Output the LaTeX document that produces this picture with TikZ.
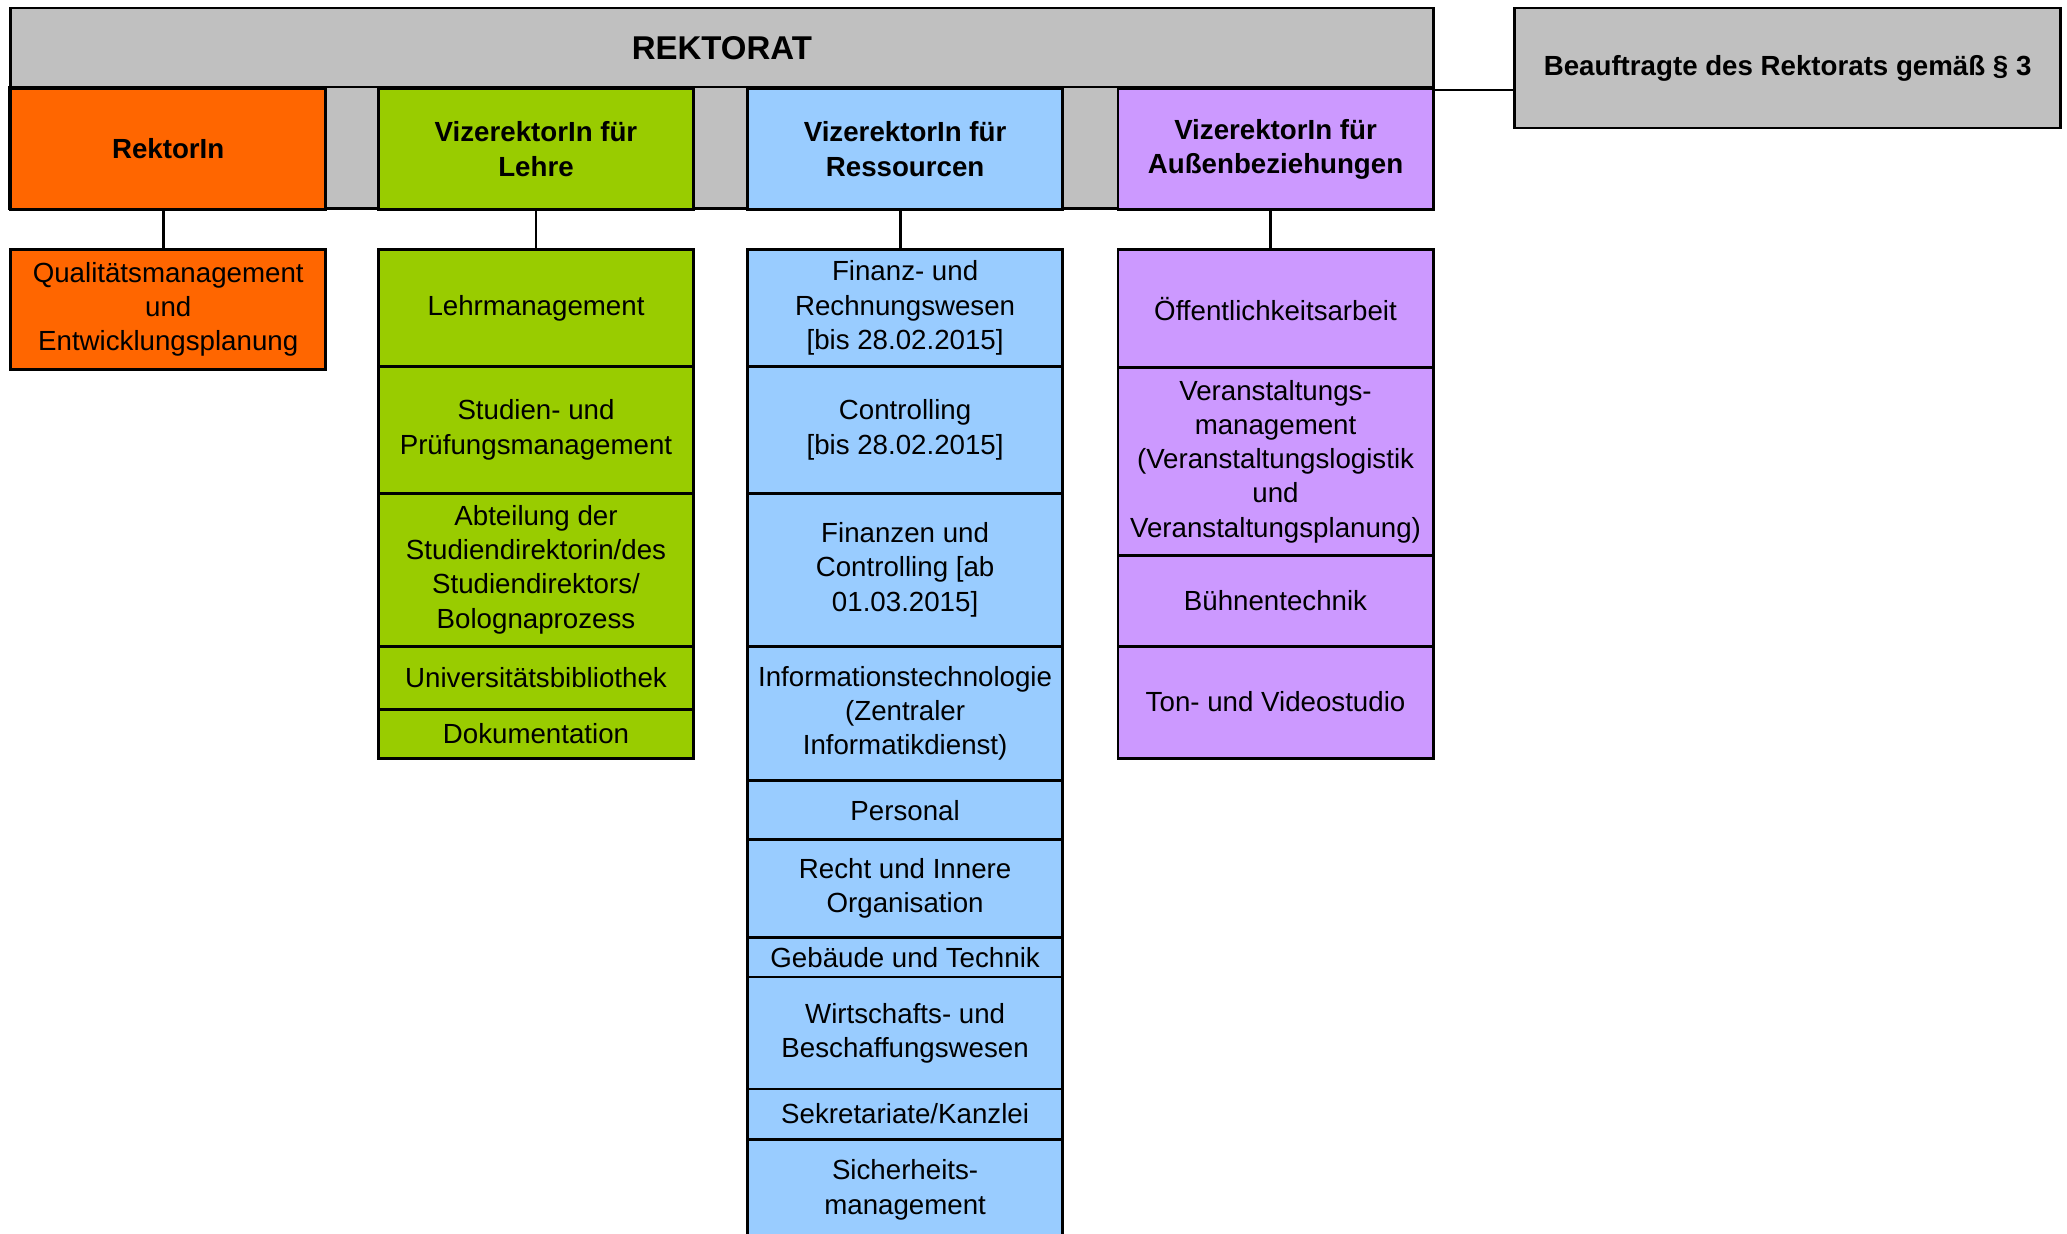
\documentclass[tikz,border=0pt]{standalone}
\usepackage{fontspec}
\setmainfont{Liberation Sans}
\usetikzlibrary{positioning,calc}
\definecolor{rekgrey}{HTML}{C0C0C0}
\definecolor{rekorange}{HTML}{FF6600}
\definecolor{lehregreen}{HTML}{99CC00}
\definecolor{ressblue}{HTML}{99CCFF}
\definecolor{aussenviolet}{HTML}{CC99FF}
\tikzset{cell/.style={draw,line width=1.1pt,inner sep=0pt,anchor=north west,minimum width=119.5pt,align=center,font=\fontsize{10.5}{13}\selectfont},
  head/.style={cell,minimum height=46pt,font=\bfseries\fontsize{10.5}{13}\selectfont},
  link/.style={line width=1pt}}

\begin{document}
\begin{tikzpicture}[x=1pt,y=-1pt]
\clip (0,0) rectangle (784,468);
% Rektorat
\node[cell,fill=rekgrey,minimum width=539.5pt,minimum height=30.5pt,font=\bfseries\fontsize{12.5}{15}\selectfont] (rektorat) at (3.5,2.5) {REKTORAT};
\filldraw[fill=rekgrey,line width=1.1pt] (3.5,33) rectangle (543,79);
\node[head,fill=rekorange] (rektorin) at (3.5,33) {RektorIn};
\node[head,fill=lehregreen] (vrlehre) at (143,33) {VizerektorIn für\\Lehre};
\node[head,fill=ressblue] (vrress) at (283,33) {VizerektorIn für\\Ressourcen};
\node[head,fill=aussenviolet] (vraussen) at (423.5,33) {VizerektorIn für\\Außenbeziehungen};
\node[cell,fill=rekgrey,minimum width=207pt,minimum height=45.5pt,font=\bfseries\fontsize{10.5}{13}\selectfont] (beauftragte) at (574,2.5) {Beauftragte des Rektorats gemäß § 3};
\draw[link] (rektorat.south east) -- (rektorat.south east -| beauftragte.west);
% RektorIn
\node[cell,fill=rekorange,minimum height=45.5pt] (qm) at (3.5,94) {Qualitätsmanagement\\und\\Entwicklungsplanung};
% Lehre
\node[cell,fill=lehregreen,minimum height=44.5pt] (lehrm) at (143,94) {Lehrmanagement};
\node[cell,fill=lehregreen,minimum height=48pt] (spm) at (143,138.5) {Studien- und\\Prüfungsmanagement};
\node[cell,fill=lehregreen,minimum height=58pt] (sdir) at (143,186.5) {Abteilung der\\Studiendirektorin/des\\Studiendirektors/\\Bolognaprozess};
\node[cell,fill=lehregreen,minimum height=24pt] (ubib) at (143,244.5) {Universitätsbibliothek};
\node[cell,fill=lehregreen,minimum height=18.5pt] (doku) at (143,268.5) {Dokumentation};
% Ressourcen
\node[cell,fill=ressblue,minimum height=44.5pt] (frw) at (283,94) {Finanz- und\\Rechnungswesen\\{[bis 28.02.2015]}};
\node[cell,fill=ressblue,minimum height=48pt] (ctrl) at (283,138.5) {Controlling\\{[bis 28.02.2015]}};
\node[cell,fill=ressblue,minimum height=58pt] (fc) at (283,186.5) {Finanzen und\\Controlling [ab\\01.03.2015]};
\node[cell,fill=ressblue,minimum height=51pt] (it) at (283,244.5) {Informationstechnologie\\(Zentraler\\Informatikdienst)};
\node[cell,fill=ressblue,minimum height=22.5pt] (pers) at (283,295.5) {Personal};
\node[cell,fill=ressblue,minimum height=37pt] (recht) at (283,318) {Recht und Innere\\Organisation};
\node[cell,fill=ressblue,minimum height=15pt] (geb) at (283,355) {Gebäude und Technik};
\node[cell,fill=ressblue,minimum height=42.5pt] (wb) at (283,370) {Wirtschafts- und\\Beschaffungswesen};
\node[cell,fill=ressblue,minimum height=19pt] (sek) at (283,412.5) {Sekretariate/Kanzlei};
\node[cell,fill=ressblue,minimum height=38.5pt] (sich) at (283,431.5) {Sicherheits-\\management};
% Aussenbeziehungen
\node[cell,fill=aussenviolet,minimum height=45pt] (oeff) at (423.5,94) {Öffentlichkeitsarbeit};
\node[cell,fill=aussenviolet,minimum height=71pt] (vam) at (423.5,139) {Veranstaltungs-\\management\\(Veranstaltungslogistik\\und\\Veranstaltungsplanung)};
\node[cell,fill=aussenviolet,minimum height=34.5pt] (buehne) at (423.5,210) {Bühnentechnik};
\node[cell,fill=aussenviolet,minimum height=42.5pt] (tonvideo) at (423.5,244.5) {Ton- und Videostudio};
% Verbindungen
\draw[link] ([xshift=-1.8pt]rektorin.south) -- ([xshift=-1.8pt]qm.north);
\draw[link] (vrlehre.south) -- (lehrm.north);
\draw[link] ([xshift=-1.8pt]vrress.south) -- ([xshift=-1.8pt]frw.north);
\draw[link] ([xshift=-1.8pt]vraussen.south) -- ([xshift=-1.8pt]oeff.north);
\end{tikzpicture}
\end{document}
